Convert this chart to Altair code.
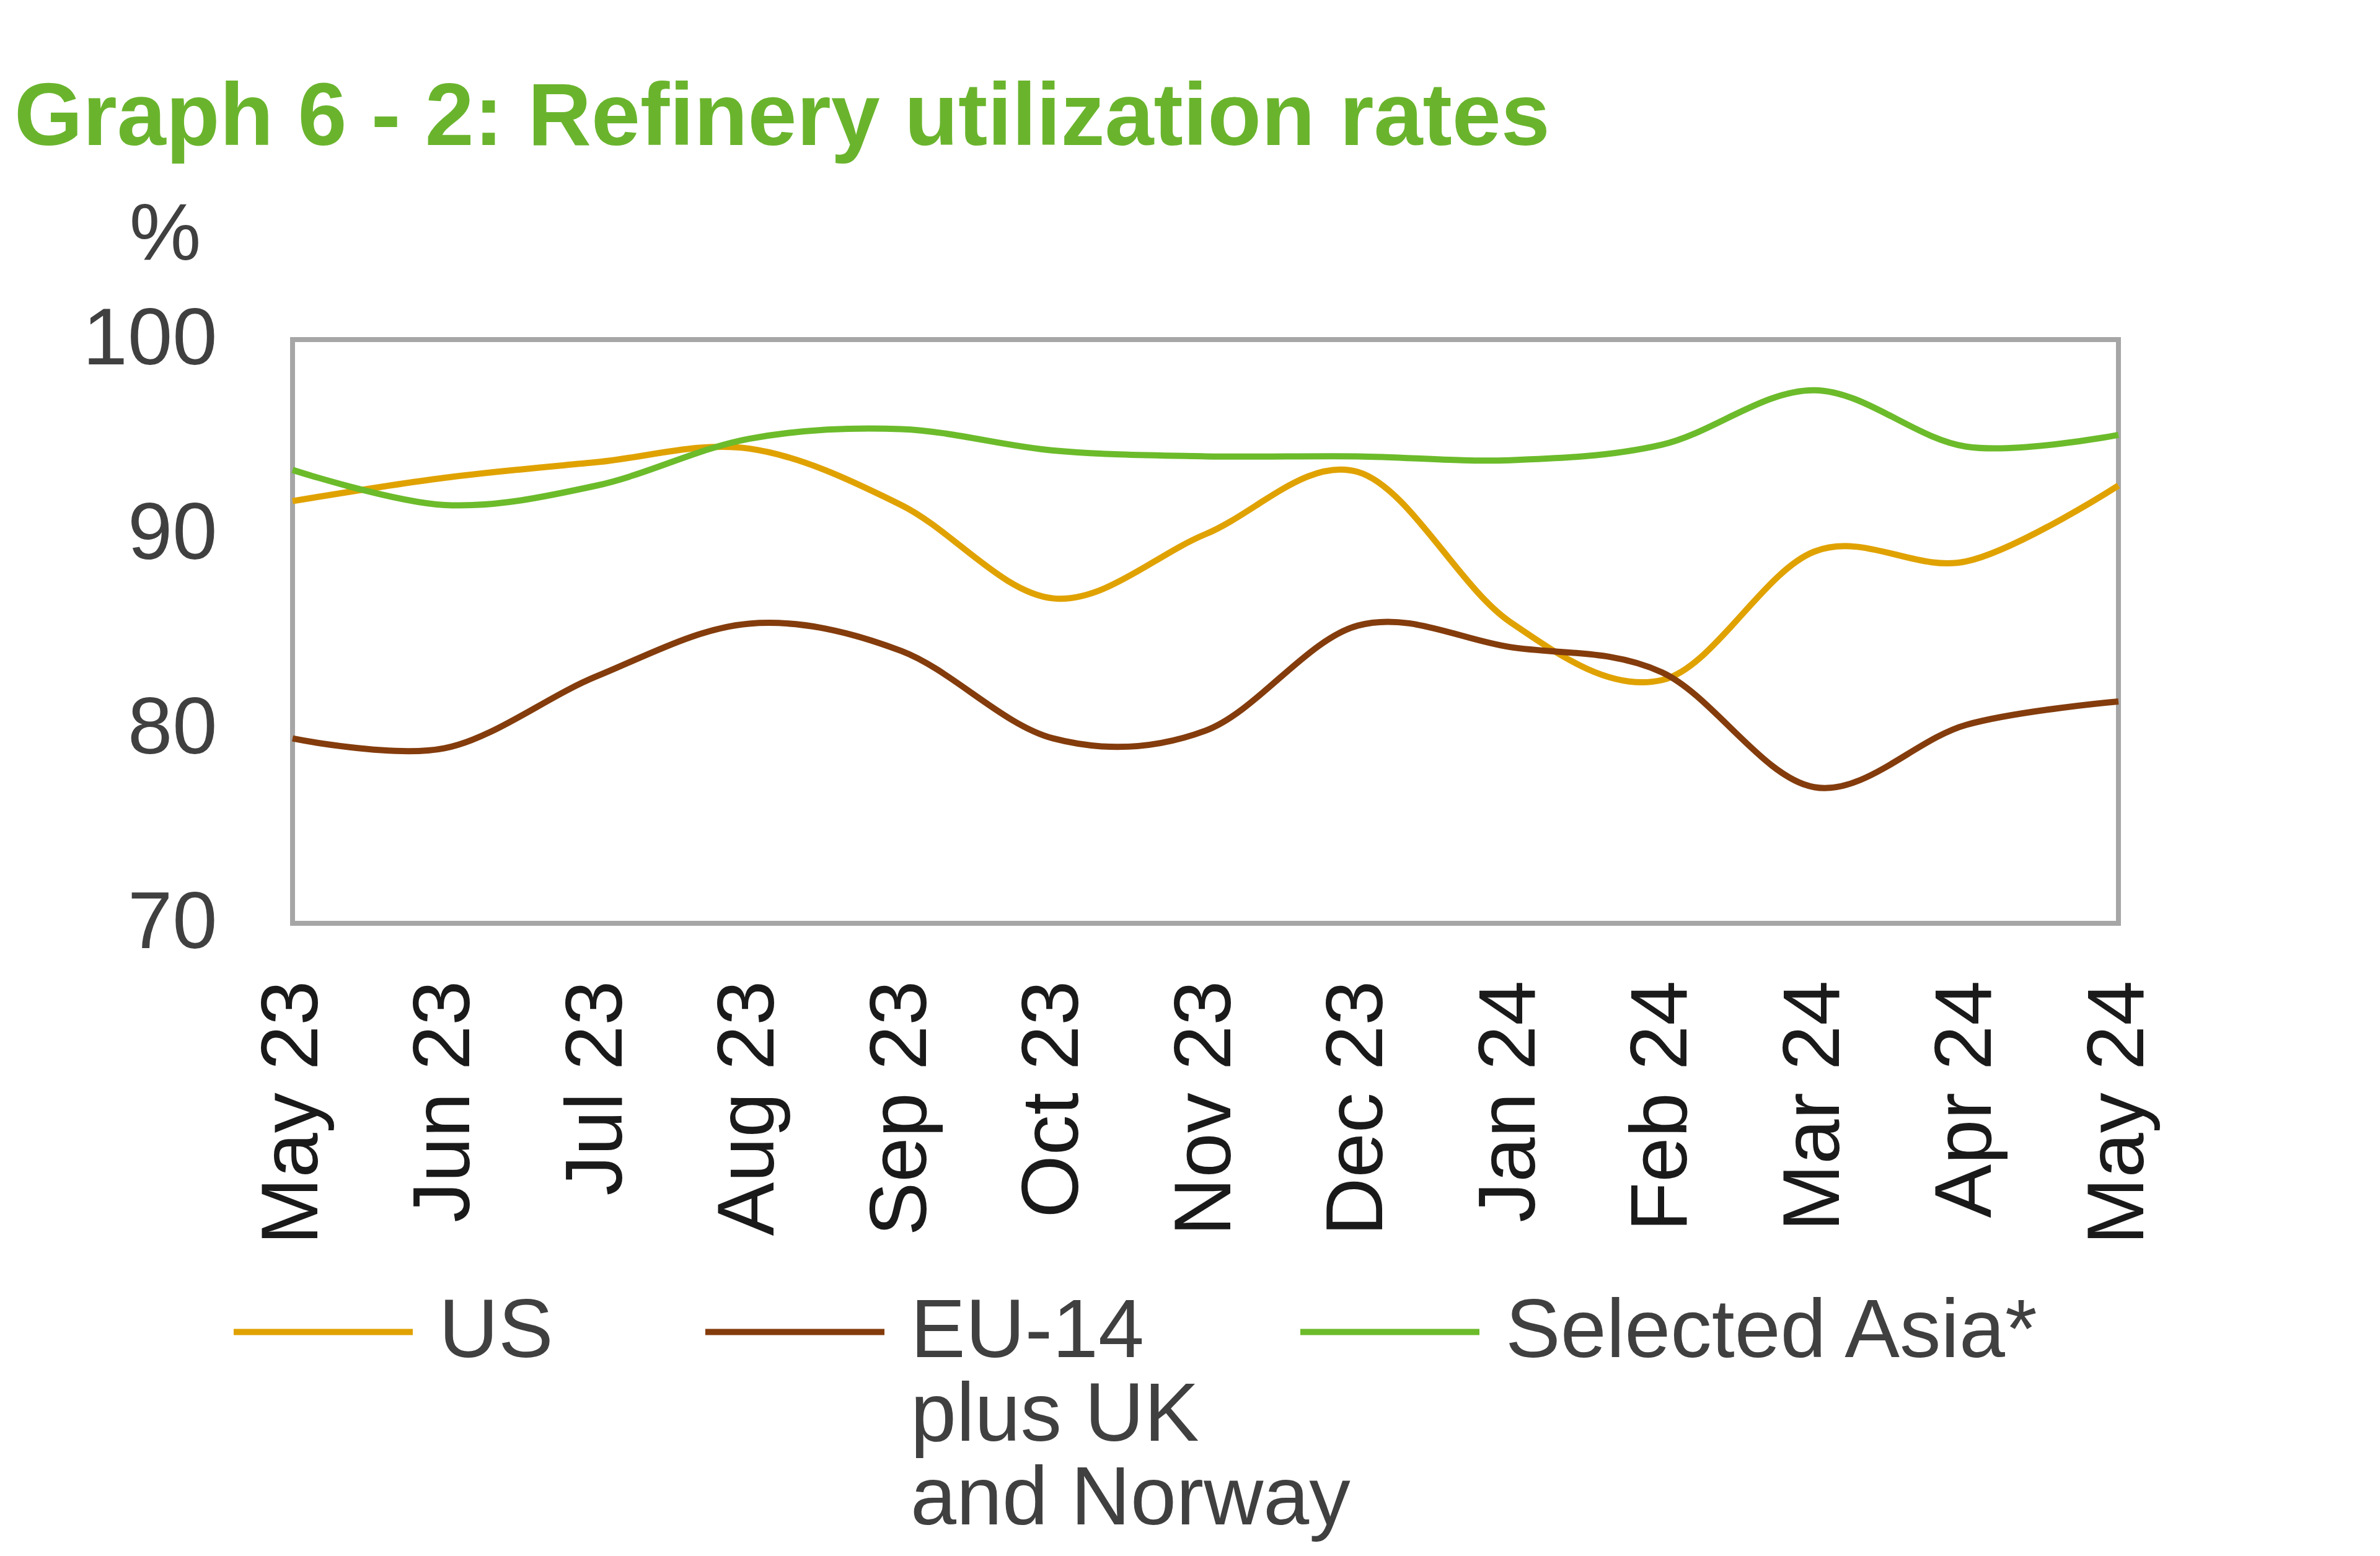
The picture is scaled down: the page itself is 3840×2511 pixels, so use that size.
import altair as alt
import pandas as pd

months = ["May 23", "Jun 23", "Jul 23", "Aug 23", "Sep 23", "Oct 23", "Nov 23",
          "Dec 23", "Jan 24", "Feb 24", "Mar 24", "Apr 24", "May 24"]
us = [91.7, 92.9, 93.7, 94.4, 91.5, 86.7, 90.0, 93.2, 85.5, 82.5, 89.1, 88.6, 92.5]
eu = [79.5, 79.0, 82.7, 85.4, 84.0, 79.5, 79.9, 85.3, 84.2, 82.9, 77.0, 80.2, 81.4]
asia = [93.3, 91.5, 92.5, 94.9, 95.4, 94.3, 94.0, 94.0, 93.8, 94.6, 97.4, 94.5, 95.1]
series_names = ["US", "EU-14 plus UK and Norway", "Selected Asia*"]
colors = ["#E0A200", "#843C0C", "#6CBB2B"]
y_ticks = [70, 80, 90, 100]

rows = []
for name, vals in zip(series_names, [us, eu, asia]):
    for m, v in zip(months, vals):
        rows.append({"month": m, "value": v, "series": name})
df = pd.DataFrame(rows)

FONT = "Liberation Sans"

x = alt.X(
    "month:O", sort=months,
    scale=alt.Scale(type="point", domain=months, padding=0),
    axis=alt.Axis(title=None, labelAngle=270, labelFontSize=130, labelFont=FONT,
                  labelColor="#1A1A1A", labelPadding=92, labelLimit=2000,
                  ticks=False, tickSize=0, domain=False, grid=False),
)
y = alt.Y(
    "value:Q",
    scale=alt.Scale(domain=[70, 100], nice=False, zero=False),
    axis=alt.Axis(values=y_ticks, title="%", titleAngle=0, titleX=-206, titleY=-169,
                  titleAlign="center", titleBaseline="middle", titleFontSize=130,
                  titleFontWeight="normal", titleColor="#404040", titleFont=FONT,
                  labelFontSize=130, labelFont=FONT, labelColor="#404040",
                  labelPadding=122, labelLimit=2000, ticks=False, tickSize=0,
                  domain=False, grid=False),
)

legend_x = [-100, 661, 1621]
layers = []
for i, name in enumerate(series_names):
    label_expr = "['EU-14', 'plus UK', 'and Norway']" if i == 1 else "datum.label"
    leg = alt.Legend(orient="none", legendX=legend_x[i], legendY=1452, title=None,
                     symbolType="stroke", symbolSize=83521, symbolStrokeWidth=10,
                     labelFontSize=133, labelFont=FONT, labelColor="#404040",
                     labelOffset=37, labelLimit=4000, padding=0, labelExpr=label_expr)
    layer = (
        alt.Chart(df)
        .transform_filter(alt.datum.series == name)
        .mark_line(strokeWidth=10, interpolate="cardinal")
        .encode(
            x=x, y=y,
            color=alt.Color("series:N",
                            scale=alt.Scale(domain=[name], range=[colors[i]]),
                            legend=leg),
        )
    )
    layers.append(layer)

chart = (
    alt.layer(*layers)
    .resolve_scale(color="independent")
    .properties(
        width=2946, height=942,
        padding={"left": 464, "top": 540, "right": 300, "bottom": 1005},
        autosize=alt.AutoSizeParams(type="none"),
        title=alt.Title("Graph 6 - 2: Refinery utilization rates", anchor="start",
                        frame="group", fontSize=142, font=FONT, fontWeight="bold",
                        color="#6AB42D", dx=-449, dy=140, offset=78,
                        baseline="alphabetic"),
    )
    .configure_view(stroke="#A6A6A6", strokeWidth=8)
)

chart.save("out.html", embed_options={"renderer": "svg", "actions": False})
